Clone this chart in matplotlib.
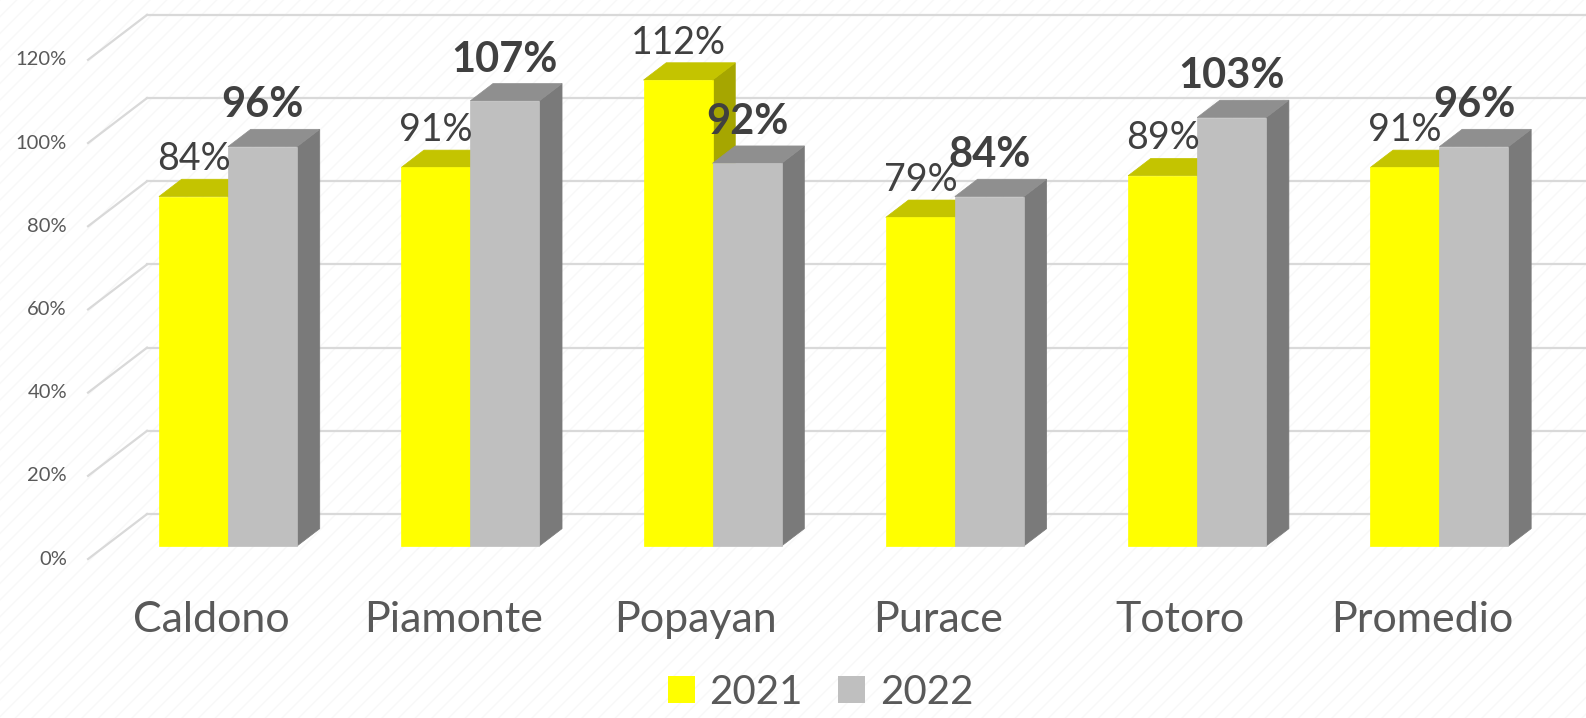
import numpy as np
import matplotlib.pyplot as plt
from matplotlib.patches import Polygon, Patch, Rectangle

plt.rcParams['font.family'] = ['Lato', 'DejaVu Sans']
plt.rcParams['hatch.linewidth'] = 1.0

categories = ['Caldono', 'Piamonte', 'Popayan', 'Purace', 'Totoro', 'Promedio']
values_2021 = [84, 91, 112, 79, 89, 91]
values_2022 = [96, 107, 92, 84, 103, 96]
series_names = ['2021', '2022']
y_ticks = [0, 20, 40, 60, 80, 100, 120]

# front, top, side shades
yellow = ('#FFFF00', '#C4C400', '#A6A600')
grey = ('#BFBFBF', '#8F8F8F', '#7A7A7A')

# oblique "3d": one unit of depth shifts by (DX, DY) in data units
DX, DY = 0.2435, 10.82
bar_w = 0.285
bar_d = 0.385
front_d = -0.29   # front edge of the floor (bar fronts sit at depth 0)
back_d = 0.71     # back wall
wall_x = -0.507   # left wall

fig = plt.figure(figsize=(15.86, 7.18), dpi=100)
ax = fig.add_axes([0, 0, 1, 1])
ax.set_xlim(-0.941, 5.605)
ax.set_ylim(-41.35, 131.25)
ax.axis('off')

# faint patterned background
ax.add_patch(Rectangle((0, 0), 1, 1, transform=ax.transAxes, facecolor='white',
                       edgecolor='#F8F8F8', hatch='//', lw=0, zorder=0))

grid_c = '#D9D9D9'
for t in y_ticks:
    x0, y0 = wall_x + front_d * DX, t + front_d * DY
    x1, y1 = wall_x + back_d * DX, t + back_d * DY
    ax.plot([x0, x1], [y0, y1], color=grid_c, lw=1.6, zorder=1)
    ax.plot([x1, 6.0], [y1, y1], color=grid_c, lw=1.6, zorder=1)
    ax.text(x0 - 0.087, y0, f'{t}%', ha='right', va='center',
            fontsize=14.5, color='#595959')


def bar3d(x, h, colors, z):
    dx, dy = bar_d * DX, bar_d * DY
    front = [(x, 0), (x + bar_w, 0), (x + bar_w, h), (x, h)]
    top = [(x, h), (x + bar_w, h), (x + bar_w + dx, h + dy), (x + dx, h + dy)]
    side = [(x + bar_w, 0), (x + bar_w + dx, dy), (x + bar_w + dx, h + dy), (x + bar_w, h)]
    for pts, c in zip([side, top, front], [colors[2], colors[1], colors[0]]):
        ax.add_patch(Polygon(pts, closed=True, facecolor=c, edgecolor=c,
                             lw=0.5, zorder=z))


idx = np.arange(len(categories))
for i in idx:
    bar3d(i - bar_w, values_2021[i], yellow, 2 + 2 * i)
    bar3d(i, values_2022[i], grey, 3 + 2 * i)

for i in idx:
    v1, v2 = values_2021[i], values_2022[i]
    ax.annotate(f'{v1}%', (i - bar_w / 2, v1 + bar_d * DY), xytext=(0, 6.5),
                textcoords='offset points', ha='center', va='baseline',
                fontsize=27, color='#404040', zorder=20)
    ax.annotate(f'{v2}%', (i + bar_w / 2, v2 + bar_d * DY), xytext=(0, 8.6),
                textcoords='offset points', ha='center', va='baseline',
                fontsize=30, fontweight='bold', color='#404040', zorder=20)
    ax.text(i + front_d * DX, -20.7, categories[i], ha='center', va='baseline',
            fontsize=31, color='#595959')

handles = [Patch(facecolor=yellow[0], edgecolor='none'),
           Patch(facecolor=grey[0], edgecolor='none')]
leg = fig.legend(handles, series_names, loc='center', bbox_to_anchor=(0.5174, 0.036),
                 ncol=2, frameon=False, fontsize=29, handlelength=0.67,
                 handleheight=0.67, handletextpad=0.37, columnspacing=0.87,
                 borderpad=0)
for txt in leg.get_texts():
    txt.set_color('#595959')

fig.savefig('out.png', dpi=100)
